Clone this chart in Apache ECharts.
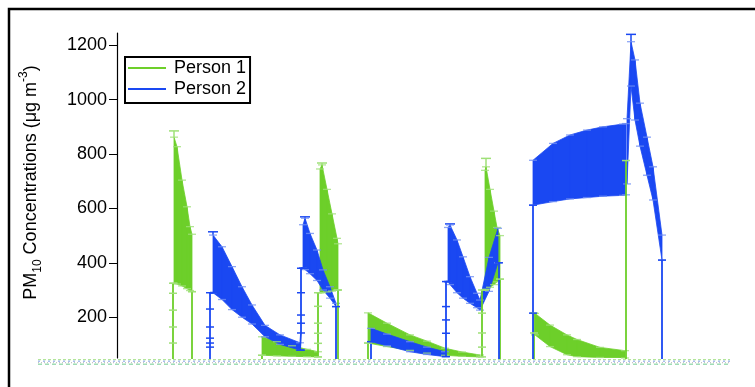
<!DOCTYPE html>
<html>
<head>
<meta charset="utf-8">
<script src="https://cdn.jsdelivr.net/npm/echarts@6/dist/echarts.min.js"></script>
<style>
  html, body { margin: 0; padding: 0; background: #fff; }
  #chart { width: 755px; height: 387px; }
</style>
</head>
<body>
<div id="chart"></div>
<script>
// Time in minutes from start of sampling; PM10 in µg m^-3.
const yTicks = [200, 400, 600, 800, 1000, 1200];

// Person 1: lower / upper error bounds of each exposure episode (null splits episodes)
const p1Time = [57, 60, 65, 70, 73, 75, null,
                145, 160, 175, 190, 201, null,
                203, 205, 210, 215, 220, 221, null,
                251, 270, 293, 310, 328, 345, 363, null,
                368, 369, 373, 377, 380, 383, null,
                418, 433, 450, 460, 483, 508];
const p1Low  = [325, 322, 315, 305, 298, 294, null,
                60, 58, 56, 55, 54, null,
                290, 290, 293, 296, 300, 300, null,
                105, 92, 78, 68, 60, 56, 54, null,
                300, 303, 310, 320, 330, 340, null,
                135, 92, 62, 55, 52, 50];
const p1High = [862, 827, 704, 606, 533, 505, null,
                128, 110, 95, 82, 73, null,
                745, 760, 670, 580, 490, 470, null,
                216, 178, 135, 112, 86, 72, 61, null,
                740, 753, 670, 590, 530, 500, null,
                214, 171, 135, 118, 89, 77];

// Person 1: readings outside the episodes (rises from and drops to background)
const p1TraceTime  = [56, 56, 56, 56, 56, 56, null, 75, 75, null, 145, 145, null,
                      201, 201, 201, 201, 201, 201, null, 221, 221, null, 251, 251, null,
                      365, 365, 365, 365, 365, 368, null, 383, 383, null, 417, 417, 417, null, 509, 509];
const p1TraceValue = [40, 105, 164, 226, 288, 325, null, 294, 40, null, 40, 60, null,
                      54, 104, 141, 178, 240, 290, null, 300, 40, null, 40, 105, null,
                      54, 90, 142, 215, 300, 300, null, 340, 40, null, 40, 142, 215, null, 40, 776];

// Person 1: largest upper error at episode peaks
const p1PeakTime = [57, 205, 369];
const p1PeakTop  = [885, 767, 784];

// Person 2: lower / upper error bounds of each exposure episode
const p2Time = [96, 105, 115, 125, 135, 148, 163, 183, null,
                186, 188, 193, 200, 206, 213, 219, null,
                254, 270, 293, 310, 328, null,
                331, 333, 340, 346, 353, 360, 363, 372, 381, null,
                416, 436, 453, 470, 486, 506, 509, null,
                510, 514, 518, 523, 530, 536, 545];
const p2Low  = [290, 265, 228, 200, 175, 128, 100, 79, null,
                380, 375, 360, 335, 300, 270, 239, null,
                110, 95, 73, 63, 55, null,
                331, 320, 290, 270, 251, 235, 226, 295, 400, null,
                612, 625, 635, 640, 645, 648, 650, null,
                690, 1050, 925, 829, 722, 631, 410];
const p2High = [502, 459, 386, 312, 245, 170, 135, 106, null,
                540, 564, 508, 447, 374, 312, 251, null,
                159, 138, 110, 90, 73, null,
                530, 539, 484, 422, 349, 288, 263, 420, 527, null,
                777, 839, 870, 888, 900, 910, 912, null,
                930, 1213, 1146, 987, 862, 753, 502];

// Person 2: readings outside the episodes
const p2TraceTime  = [93, 93, 93, 93, 93, 93, 93, 96, null,
                      183, 184, 184, 184, 184, 184, 184, 186, null, 219, 219, null,
                      254, 254, null, 329, 329, 329, 329, 329, 331, null,
                      382, 382, null, 416, 416, 416, null, 545, 545];
const p2TraceValue = [40, 90, 105, 123, 164, 230, 290, 290, null,
                      79, 79, 142, 178, 208, 290, 380, 380, null, 239, 40, null,
                      40, 110, null, 55, 141, 190, 239, 331, 331, null,
                      400, 40, null, 40, 215, 612, null, 410, 40];

// Person 2: largest upper error at episode peaks
const p2PeakTime = [96, 188, 333, 514];
const p2PeakTop  = [514, 569, 543, 1240];

// Background readings along the bottom of the record
const bgTime = [-79, 613];
const bgLevels = [44, 38, 33, 27];

const GREEN = '#6dcf2a', GREEN_LIGHT = '#9fe078';
const BLUE = '#1a48f2', BLUE_LIGHT = '#6f8ff2';
const FONT = '"Liberation Sans", Arial, Helvetica, sans-serif';

function bandItems(time, low, high) {
  const items = [];
  for (let i = 0; i + 1 < time.length; i++) {
    if (time[i] == null || time[i + 1] == null) continue;
    items.push([time[i], low[i], high[i], time[i + 1], low[i + 1], high[i + 1]]);
  }
  return items;
}

function bandSeries(name, time, low, high, color) {
  return {
    type: 'custom', name: name, clip: true, silent: true,
    itemStyle: { color: color },
    data: bandItems(time, low, high),
    encode: { x: [0, 3], y: [1, 2, 4, 5] },
    renderItem: function (params, api) {
      const a = api.coord([api.value(0), api.value(1)]);
      const b = api.coord([api.value(0), api.value(2)]);
      const c = api.coord([api.value(3), api.value(5)]);
      const d = api.coord([api.value(3), api.value(4)]);
      return { type: 'polygon', shape: { points: [a, b, c, d] },
               style: { fill: color, stroke: color, lineWidth: 0.8 } };
    }
  };
}

function capSeries(time, low, high, color) {
  const data = [];
  time.forEach(function (t, i) {
    if (t == null) return;
    data.push([t, high[i]]);
    data.push([t, low[i]]);
  });
  return {
    type: 'scatter', silent: true, clip: true, data: data,
    symbol: 'rect', symbolSize: [8, 1.3],
    itemStyle: { color: color }
  };
}

function traceSeries(time, value, color, capColor) {
  const data = time.map(function (t, i) { return t == null ? '-' : [t, value[i]]; });
  return {
    type: 'line', silent: true, clip: true, data: data,
    connectNulls: false,
    showSymbol: true, showAllSymbol: true,
    symbol: 'rect', symbolSize: [8, 1.5],
    itemStyle: { color: capColor },
    lineStyle: { color: color, width: 1.8 },
    animation: false
  };
}

function peakSeries(peakTime, peakTop, time, high, color) {
  const data = peakTime.map(function (t, i) {
    const k = time.indexOf(t);
    return [t, k >= 0 ? high[k] : peakTop[i], peakTop[i]];
  });
  return {
    type: 'custom', silent: true, clip: true, data: data,
    encode: { x: 0, y: [1, 2] },
    renderItem: function (params, api) {
      const base = api.coord([api.value(0), api.value(1)]);
      const top = api.coord([api.value(0), api.value(2)]);
      return { type: 'group', children: [
        { type: 'line', shape: { x1: base[0], y1: base[1], x2: top[0], y2: top[1] },
          style: { stroke: color, lineWidth: 1.5 } },
        { type: 'line', shape: { x1: top[0] - 5, y1: top[1], x2: top[0] + 5, y2: top[1] },
          style: { stroke: color, lineWidth: 1.5 } }
      ] };
    }
  };
}

const bgColors = ['#a6e08a', '#9db2f0', '#b8b8b8', '#8fd7a8'];
const bgDashes = [[3, 2], [2, 3], [1, 2], [4, 3]];
const bgSeries = bgLevels.map(function (lv, i) {
  return {
    type: 'line', silent: true, clip: false, symbol: 'none',
    data: bgTime.map(function (t) { return [t, lv]; }),
    lineStyle: { color: bgColors[i], width: 1.4, type: bgDashes[i], opacity: 0.85 },
    animation: false
  };
});

const chart = echarts.init(document.getElementById('chart'), null, { renderer: 'canvas' });
chart.setOption({
  animation: false,
  backgroundColor: '#fff',
  grid: { left: 38, right: 15, top: 33, bottom: 29, containLabel: false, outerBoundsMode: 'none' },
  xAxis: { type: 'value', min: -79, max: 623, show: false },
  yAxis: {
    type: 'value', min: 50, max: 1245, offset: -79,
    splitLine: { show: false },
    axisLine: { show: true, lineStyle: { color: '#000', width: 1.2 } },
    axisTick: { show: true, length: 8, lineStyle: { color: '#000', width: 1 }, customValues: yTicks },
    axisLabel: { color: '#000', fontSize: 18, fontFamily: FONT, margin: 10, customValues: yTicks,
                 formatter: function (v) { return String(v); } },
    name: 'PM{sub|10} Concentrations (μg m{sup|-3})',
    nameLocation: 'middle', nameGap: 73,
    nameTextStyle: {
      color: '#000', fontSize: 18, fontFamily: FONT, lineHeight: 26,
      padding: [0, 0, 0, 26],
      rich: {
        sub: { fontSize: 12, lineHeight: 12, verticalAlign: 'bottom', fontFamily: FONT, color: '#000' },
        sup: { fontSize: 12, lineHeight: 12, verticalAlign: 'top', fontFamily: FONT, color: '#000' }
      }
    }
  },
  legend: {
    left: 125, top: 57, orient: 'vertical',
    itemWidth: 38, itemHeight: 2, itemGap: 1,
    padding: [1, 4, 4, 3],
    borderColor: '#000', borderWidth: 2, backgroundColor: '#fff',
    textStyle: { color: '#000', fontSize: 18, fontFamily: FONT, lineHeight: 20, padding: [0, 0, 0, 3] },
    data: [
      { name: 'Person 1', icon: 'rect', itemStyle: { color: GREEN } },
      { name: 'Person 2', icon: 'rect', itemStyle: { color: BLUE } }
    ],
    selectedMode: false
  },
  graphic: [{
    type: 'rect', silent: true, z: 100,
    shape: { x: 9, y: 9, width: 900, height: 600 },
    style: { fill: 'none', stroke: '#000', lineWidth: 2.5 }
  }],
  series: [].concat(
    bgSeries,
    [capSeries(p1Time, p1Low, p1High, GREEN_LIGHT),
     bandSeries('Person 1', p1Time, p1Low, p1High, GREEN),
     traceSeries(p1TraceTime, p1TraceValue, GREEN, GREEN_LIGHT),
     peakSeries(p1PeakTime, p1PeakTop, p1Time, p1High, GREEN_LIGHT),
     capSeries(p2Time, p2Low, p2High, BLUE_LIGHT),
     bandSeries('Person 2', p2Time, p2Low, p2High, BLUE),
     traceSeries(p2TraceTime, p2TraceValue, BLUE, BLUE),
     peakSeries(p2PeakTime, p2PeakTop, p2Time, p2High, BLUE)]
  )
});
</script>
</body>
</html>
